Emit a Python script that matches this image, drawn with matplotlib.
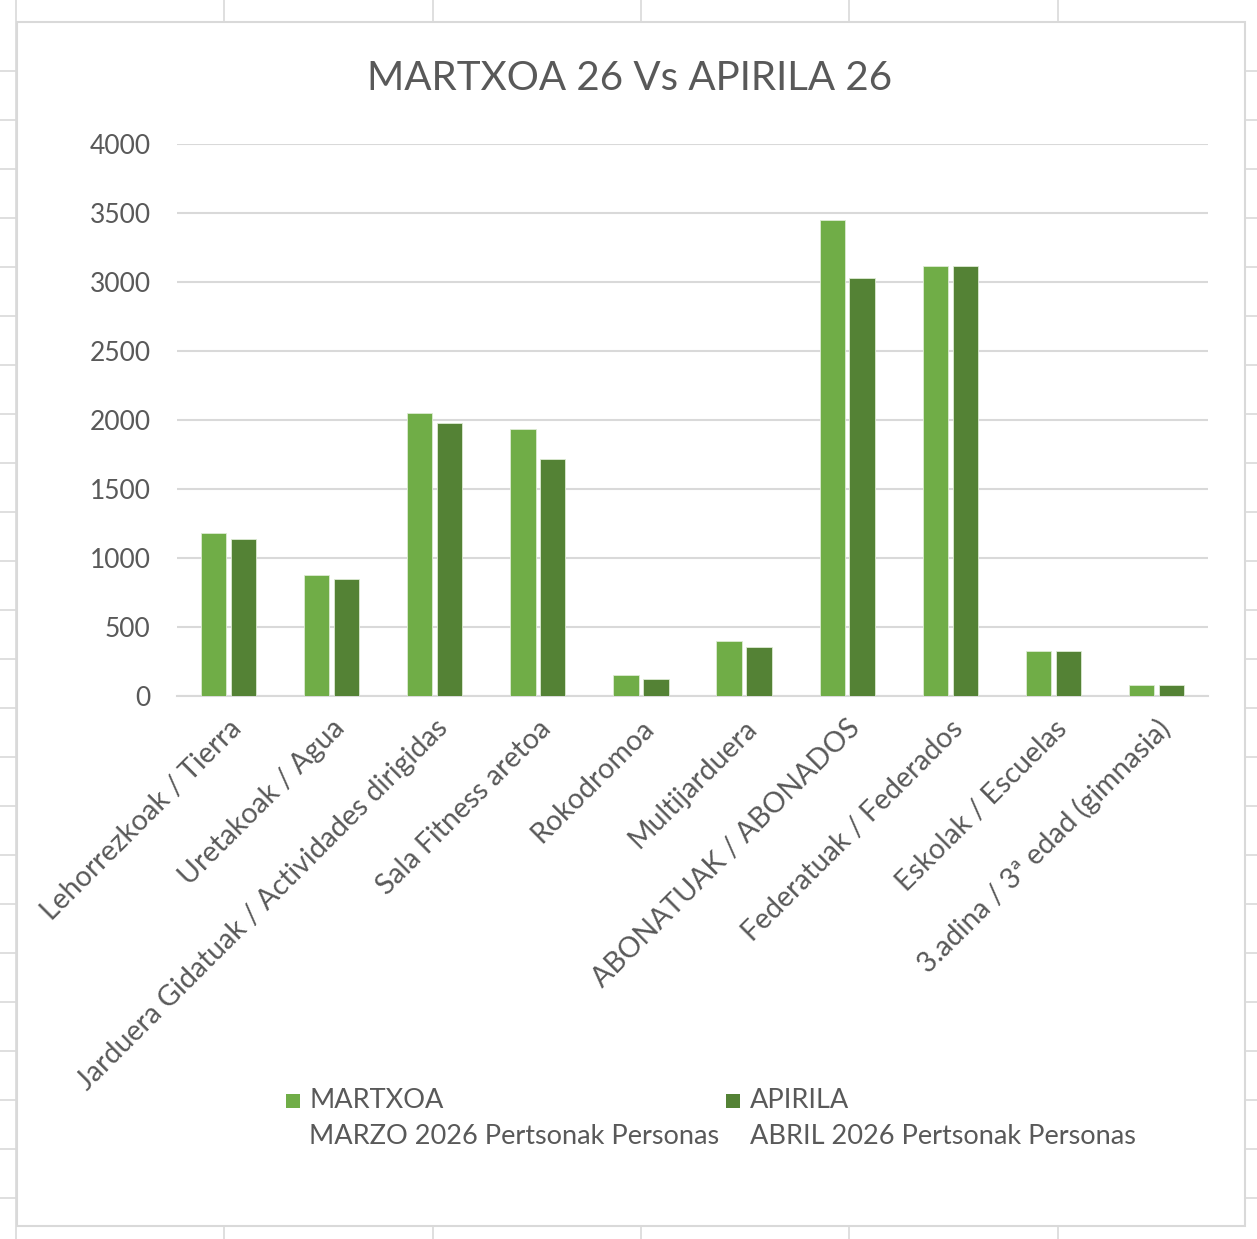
import numpy as np
import matplotlib
matplotlib.use('Agg')
import matplotlib.pyplot as plt
from matplotlib.patches import Rectangle
from matplotlib.lines import Line2D

# data
categories = ['Lehorrezkoak / Tierra', 'Uretakoak / Agua',
              'Jarduera Gidatuak / Actividades dirigidas', 'Sala Fitness aretoa',
              'Rokodromoa', 'Multijarduera', 'ABONATUAK / ABONADOS',
              'Federatuak / Federados', 'Eskolak / Escuelas',
              '3.adina / 3ª edad (gimnasia)']
martxoa = [1180, 875, 2052, 1936, 148, 395, 3450, 3116, 323, 76]
apirila = [1137, 846, 1980, 1718, 119, 352, 3026, 3116, 323, 76]
series_names = ['MARTXOA', 'APIRILA']
series_sub = ['MARZO 2026 Pertsonak Personas', 'ABRIL 2026 Pertsonak Personas']
yticks = [0, 500, 1000, 1500, 2000, 2500, 3000, 3500, 4000]

title = 'MARTXOA 26 Vs APIRILA 26'
text_color = '#595959'
grid_color = '#D9D9D9'
colors = ['#70AD47', '#548235']

W, H = 1257, 1239
plt.rcParams['font.family'] = ['Lato', 'DejaVu Sans']

fig = plt.figure(figsize=(W / 100, H / 100), dpi=100)


def fx(px):
    return px / W


def fy(py):
    return 1 - py / H


# spreadsheet cells behind the chart
for x in [224, 433, 641, 849, 1058]:
    fig.add_artist(Line2D([fx(x), fx(x)], [fy(0), fy(22)], color=grid_color, lw=1.2))
    fig.add_artist(Line2D([fx(x), fx(x)], [fy(1226), fy(H)], color=grid_color, lw=1.2))
for y in np.arange(71, 1226, 49):
    fig.add_artist(Line2D([fx(0), fx(17)], [fy(y), fy(y)], color=grid_color, lw=1.2))
    fig.add_artist(Line2D([fx(1245), fx(W)], [fy(y), fy(y)], color=grid_color, lw=1.2))
fig.add_artist(Line2D([fx(16), fx(16)], [fy(0), fy(H)], color=grid_color, lw=1.2))
fig.add_artist(Rectangle((fx(17), fy(1226)), fx(1245) - fx(17), fy(22) - fy(1226),
                         transform=fig.transFigure, fill=False,
                         edgecolor=grid_color, lw=1.5))

ax = fig.add_axes([fx(177), fy(695.7), fx(1208) - fx(177), fy(144) - fy(695.7)])

x = np.arange(len(categories))
bw = 0.245
off = 0.145
ax.bar(x - off, martxoa, bw, color=colors[0], edgecolor='#DDEBD3', linewidth=0.6, zorder=3)
ax.bar(x + off, apirila, bw, color=colors[1], edgecolor='#DDEBD3', linewidth=0.6, zorder=3)

ax.set_xlim(-0.5, len(categories) - 0.5)
ax.set_ylim(0, 4000)
ax.set_yticks(yticks)
ax.yaxis.grid(True, color=grid_color, lw=1.5)
ax.set_axisbelow(True)
for s in ['top', 'right', 'left']:
    ax.spines[s].set_visible(False)
ax.spines['bottom'].set_color(grid_color)
ax.spines['bottom'].set_linewidth(1.5)
ax.tick_params(axis='both', length=0, colors=text_color)
ax.tick_params(axis='y', pad=19, labelsize=19)
ax.set_xticks(x)
ax.set_xticklabels(categories, rotation=45, ha='right', rotation_mode='anchor')
ax.tick_params(axis='x', pad=14, labelsize=20.5)

fig.text(fx(630), fy(78), title, ha='center', va='center', fontsize=29, color=text_color)

# legend
for c, name, sub, px, tx in zip(colors, series_names, series_sub, [286, 726], [309, 750]):
    fig.add_artist(Rectangle((fx(px), fy(1108)), fx(14), 14 / H,
                             transform=fig.transFigure, facecolor=c, edgecolor='none'))
    fig.text(fx(tx), fy(1101), name, ha='left', va='center', fontsize=19.5, color=text_color)
    fig.text(fx(tx), fy(1137), sub, ha='left', va='center', fontsize=19.5, color=text_color)

fig.savefig('out.png', dpi=100)
